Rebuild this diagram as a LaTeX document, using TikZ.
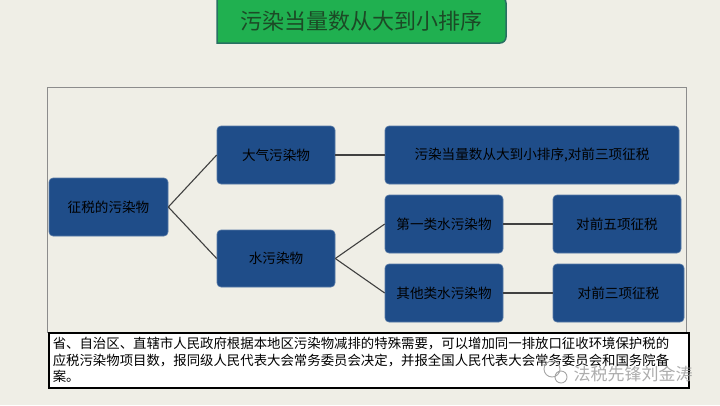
\documentclass[tikz,border=0pt]{standalone}
\usepackage{fontspec}
\setmainfont{Noto Sans CJK SC}
\usepackage{xcolor}
\usepackage{tikz}
\usetikzlibrary{positioning}

\definecolor{pagebg}{RGB}{239,238,230}
\definecolor{boxblue}{RGB}{31,77,137}
\definecolor{inkdark}{RGB}{0,0,0}
\definecolor{titlegreen}{RGB}{32,176,80}
\definecolor{titleedge}{RGB}{40,112,98}
\definecolor{titletext}{RGB}{28,74,38}

\begin{document}
\begin{tikzpicture}[x=1bp, y=-1bp,
  bluebox/.style={rectangle, fill=boxblue, draw=boxblue!75!white, line width=0.6bp,
    rounded corners=4bp, inner sep=0pt, text=inkdark,
    font=\fontsize{13.6bp}{15bp}\selectfont, minimum height=58bp},
  link/.style={draw=black!75, line width=1.1bp}]
\useasboundingbox[fill=pagebg] (0,0) rectangle (720,405);
% ---- title ----
\draw[fill=titlegreen, draw=titleedge, line width=1.5bp]
  (217,-3) -- (217,43) [rounded corners=6bp] -- (506,43) -- (506,-3) [sharp corners] -- cycle;
\node[text=titletext, font=\fontsize{22bp}{24bp}\selectfont] (title) at (361.5,21) {污染当量数从大到小排序};
% ---- frame ----
\draw[draw=black!45, line width=0.8bp] (47,87) rectangle (686,332);
% ---- boxes ----
\node[bluebox, minimum width=119bp] (tax) at (108.5,207) {征税的污染物};
\node[bluebox, minimum width=118bp] (air) at (276,155) {大气污染物};
\node[bluebox, minimum width=118bp, minimum height=57bp] (water) at (276,258.5) {水污染物};
\node[bluebox, minimum width=294bp] (airrule) at (532,155) {污染当量数从大到小排序,对前三项征税};
\node[bluebox, minimum width=118bp] (first) at (444,224) {第一类水污染物};
\node[bluebox, minimum width=118bp] (other) at (444,293) {其他类水污染物};
\node[bluebox, minimum width=128bp] (topfive) at (617,224) {对前五项征税};
\node[bluebox, minimum width=131bp] (topthree) at (618.5,293) {对前三项征税};
% ---- links ----
\draw[link] (tax.east) -- (air.west);
\draw[link] (tax.east) -- (water.west);
\draw[link] (air.east) -- (airrule.west);
\draw[link] (water.east) -- (first.west);
\draw[link] (water.east) -- (other.west);
\draw[link] (first.east) -- (topfive.west);
\draw[link] (other.east) -- (topthree.west);
% ---- note ----
\node[fill=white, draw=black, line width=1.5bp, anchor=north west, inner xsep=4bp, inner ysep=3bp,
  minimum width=640bp, minimum height=55bp, text width=632bp, align=left,
  font=\fontsize{13.4bp}{16.5bp}\selectfont] (note) at (48,332)
  {省、自治区、直辖市人民政府根据本地区污染物减排的特殊需要，可以增加同一排放口征收环境保护税的\\
   应税污染物项目数，报同级人民代表大会常务委员会决定，并报全国人民代表大会常务委员会和国务院备\\
   案。};
% ---- watermark ----
\draw[black!35, line width=0.9bp] (552,369) circle (8bp) (561,377) circle (6bp);
\node[text=black!40, opacity=0.8, font=\fontsize{17bp}{19bp}\selectfont] (mark) at (633,374) {法税先锋刘金涛};
\end{tikzpicture}
\end{document}
